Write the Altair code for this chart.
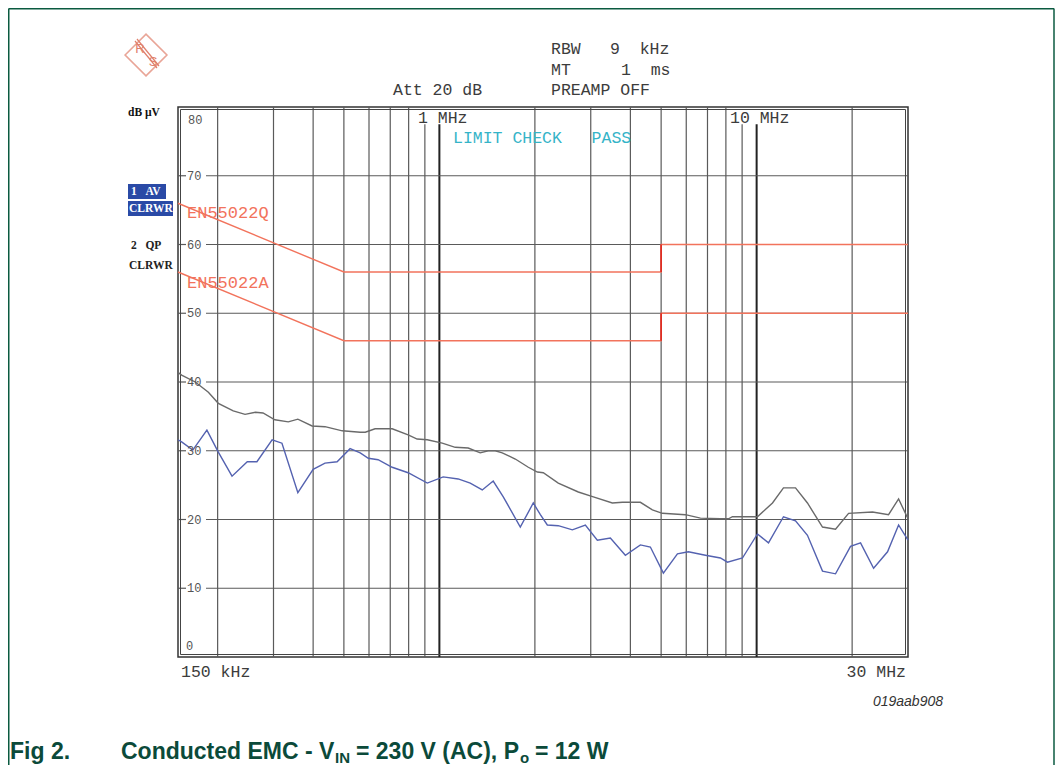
import altair as alt
import pandas as pd

# ---------------- data ----------------
qp_freq = [0.150, 0.154, 0.170, 0.187, 0.201, 0.224, 0.244, 0.263, 0.278, 0.303, 0.334, 0.358,
           0.397, 0.436, 0.494, 0.563, 0.584, 0.627, 0.710, 0.797, 0.851, 0.916, 1.021, 1.122,
           1.233, 1.345, 1.426, 1.500, 1.578, 1.735, 1.907, 2.036, 2.126, 2.370, 2.741, 3.057,
           3.509, 3.774, 4.301, 4.692, 5.045, 5.964, 6.650, 7.689, 8.150, 8.390, 10.06, 11.22,
           12.15, 13.26, 14.46, 16.13, 17.73, 19.49, 23.19, 26.05, 28.02, 30.0]
qp_level = [41.4, 41.0, 40.0, 38.5, 36.9, 35.8, 35.3, 35.6, 35.5, 34.5, 34.2, 34.6,
            33.6, 33.5, 32.9, 32.7, 32.7, 33.2, 33.2, 32.3, 31.7, 31.6, 31.1, 30.5,
            30.4, 29.7, 30.0, 30.0, 29.7, 28.8, 27.6, 26.9, 26.8, 25.3, 24.0, 23.3,
            22.4, 22.5, 22.5, 21.4, 20.9, 20.7, 20.2, 20.1, 20.1, 20.4, 20.4, 22.4,
            24.6, 24.6, 22.4, 18.9, 18.6, 20.9, 21.1, 20.7, 23.0, 20.1]

av_freq = [0.150, 0.154, 0.167, 0.185, 0.201, 0.222, 0.248, 0.266, 0.297, 0.319, 0.358, 0.400,
           0.436, 0.476, 0.523, 0.563, 0.597, 0.641, 0.710, 0.797, 0.916, 1.028, 1.146, 1.251,
           1.365, 1.478, 1.590, 1.799, 1.977, 2.081, 2.189, 2.370, 2.625, 2.885, 3.147, 3.459,
           3.857, 4.301, 4.624, 5.082, 5.628, 6.094, 6.895, 7.689, 8.091, 9.023, 10.06, 10.90,
           12.15, 13.26, 14.46, 16.13, 17.73, 19.77, 21.26, 23.37, 25.86, 28.02, 30.0]
av_level = [31.6, 31.3, 30.1, 33.0, 29.8, 26.3, 28.4, 28.4, 31.6, 31.1, 23.9, 27.3,
            28.2, 28.4, 30.3, 29.7, 28.9, 28.7, 27.6, 26.8, 25.3, 26.2, 25.9, 25.3,
            24.3, 25.6, 23.3, 18.9, 22.4, 20.7, 19.2, 19.1, 18.5, 19.2, 17.0, 17.3,
            14.8, 16.3, 16.0, 12.2, 15.0, 15.3, 14.8, 14.4, 13.8, 14.4, 17.9, 16.6,
            20.4, 19.8, 17.7, 12.5, 12.1, 16.1, 16.6, 12.9, 15.3, 19.2, 17.0]

limit_q_freq = [0.15, 0.5, 5.0, 5.0, 30.0]
limit_q_level = [66, 56, 56, 60, 60]
limit_a_freq = [0.15, 0.5, 5.0, 5.0, 30.0]
limit_a_level = [56, 46, 46, 50, 50]

grid_freq = [0.2, 0.3, 0.4, 0.5, 0.6, 0.7, 0.8, 0.9, 2, 3, 4, 5, 6, 7, 8, 9, 20]
grid_major = [1, 10]
grid_short = [0.9, 1, 9, 10]          # lines interrupted by the "MHz" labels
grid_level = [10, 20, 30, 40, 50, 60, 70]

# ---------------- tables ----------------
xs = alt.Scale(type="log", domain=[0.15, 30], nice=False)
ys = alt.Scale(domain=[0, 80], nice=False)

vg = pd.DataFrame({"f": grid_freq})
vg["top"] = [77.5 if f in grid_short else 80 for f in grid_freq]
vg["bot"] = 0
vm = pd.DataFrame({"f": grid_major})
vm["top"] = [77.5 if f in grid_short else 80 for f in grid_major]
vm["bot"] = 0
hg = pd.DataFrame({"lvl": grid_level})

lim = pd.concat([
    pd.DataFrame({"f": limit_q_freq, "v": limit_q_level, "s": "Q", "o": range(5)}),
    pd.DataFrame({"f": limit_a_freq, "v": limit_a_level, "s": "A", "o": range(5)}),
])
steps = pd.DataFrame({"f": [5.0, 5.0], "v1": [limit_q_level[2], limit_a_level[2]],
                      "v2": [limit_q_level[3], limit_a_level[3]]})
qp = pd.DataFrame({"f": qp_freq, "v": qp_level, "o": range(len(qp_freq))})
av = pd.DataFrame({"f": av_freq, "v": av_level, "o": range(len(av_freq))})
one = pd.DataFrame({"a": [0]})

X = lambda: alt.X("f:Q", scale=xs, axis=None)

layers = []

# grid
layers.append(alt.Chart(vg).mark_rule(color="#5a5a5a", strokeWidth=1.2).encode(
    x=X(), y=alt.Y("top:Q", scale=ys, axis=None), y2="bot:Q"))
layers.append(alt.Chart(vm).mark_rule(color="#222222", strokeWidth=2).encode(
    x=X(), y=alt.Y("top:Q", scale=ys, axis=None), y2="bot:Q"))
layers.append(alt.Chart(hg).mark_rule(color="#5a5a5a", strokeWidth=1.2).encode(
    x=alt.value(0), x2=alt.value(8), y=alt.Y("lvl:Q", scale=ys, axis=None)))
layers.append(alt.Chart(hg).mark_rule(color="#5a5a5a", strokeWidth=1.2).encode(
    x=alt.value(28), x2=alt.value(730), y=alt.Y("lvl:Q", scale=ys, axis=None)))

# inner border (double frame)
layers.append(alt.Chart(one).mark_rect(filled=False, stroke="#444444", strokeWidth=1).encode(
    x=alt.value(2.5), x2=alt.value(727.5), y=alt.value(2.5), y2=alt.value(547.5)))

# limits
layers.append(alt.Chart(lim).mark_line(color="#f2735c", strokeWidth=1.4).encode(
    x=X(), y=alt.Y("v:Q", scale=ys, axis=None), detail="s:N", order="o:Q"))
layers.append(alt.Chart(steps).mark_rule(color="#e0281e", strokeWidth=1.6).encode(
    x=X(), y=alt.Y("v1:Q", scale=ys, axis=None), y2="v2:Q"))

# traces
layers.append(alt.Chart(qp).mark_line(color="#6a6a6a", strokeWidth=1.4).encode(
    x=X(), y=alt.Y("v:Q", scale=ys, axis=None), order="o:Q"))
layers.append(alt.Chart(av).mark_line(color="#5462b0", strokeWidth=1.4).encode(
    x=X(), y=alt.Y("v:Q", scale=ys, axis=None), order="o:Q"))


def txt(t, px, py, **kw):
    return alt.Chart(one).mark_text(**kw).encode(
        x=alt.value(px), y=alt.value(py), text=alt.value(t))


NB = "\u00a0"
MONO = "Liberation Mono, DejaVu Sans Mono, monospace"
hdr = dict(font=MONO, fontSize=16.5, color="#3c3c3c", align="left", baseline="middle")
layers += [
    txt("RBW", 373, -58, **hdr), txt("9" + NB * 2 + "kHz", 432, -58, **hdr),
    txt("MT", 373, -37, **hdr), txt("1" + NB * 2 + "ms", 443, -37, **hdr),
    txt("Att 20 dB", 215, -17, **hdr), txt("PREAMP OFF", 373, -17, **hdr),
    txt("1 MHz", 240, 11, **hdr), txt("10 MHz", 552, 11, **hdr),
    txt("150 kHz", 3, 565, **hdr),
    txt("30 MHz", 728, 565, **{**hdr, "align": "right"}),
    txt("LIMIT CHECK" + NB * 3 + "PASS", 275, 31, **{**hdr, "color": "#35b4c8"}),
    txt("EN55022Q", 9, 106, **{**hdr, "color": "#f2735c", "fontSize": 17}),
    txt("EN55022A", 9, 176, **{**hdr, "color": "#f2735c", "fontSize": 17}),
]

# y tick labels inside the plot
ylab = pd.DataFrame({"lvl": grid_level, "t": [str(v) for v in grid_level]})
layers.append(alt.Chart(ylab).mark_text(font=MONO, fontSize=12, color="#555555",
                                        align="left", baseline="middle").encode(
    x=alt.value(9), y=alt.Y("lvl:Q", scale=ys, axis=None), text="t:N"))
layers += [
    txt("80", 10, 13, font=MONO, fontSize=12, color="#555555", align="left", baseline="middle"),
    txt("0", 8, 539, font=MONO, fontSize=12, color="#555555", align="left", baseline="middle"),
]

# left side trace indicators
SERIF = "Liberation Serif, DejaVu Serif, serif"
side = dict(font=SERIF, fontSize=11.5, fontWeight="bold", align="left", baseline="middle")
layers += [
    txt("dB" + NB + "µV", -50, 6, color="#111111", **side),
    alt.Chart(one).mark_rect(color="#2a4aa6").encode(
        x=alt.value(-50), x2=alt.value(-12), y=alt.value(77), y2=alt.value(92)),
    alt.Chart(one).mark_rect(color="#2a4aa6").encode(
        x=alt.value(-50), x2=alt.value(-5), y=alt.value(94), y2=alt.value(109)),
    txt("1" + NB * 3 + "AV", -47, 85, color="white", **side),
    txt("CLRWR", -49, 102, color="white", **side),
    txt("2" + NB * 3 + "QP", -47, 139, color="#222222", **side),
    txt("CLRWR", -49, 159, color="#222222", **side),
]

# R&S logo
LOGO = "#e0806c"
layers += [
    alt.Chart(one).mark_point(shape="diamond", size=1750, filled=False, stroke=LOGO,
                              strokeWidth=1.6).encode(x=alt.value(-32), y=alt.value(-52)),
    alt.Chart(one).mark_rule(color=LOGO, strokeWidth=1.2).encode(
        x=alt.value(-43), x2=alt.value(-21), y=alt.value(-66), y2=alt.value(-39)),
    alt.Chart(one).mark_rule(color=LOGO, strokeWidth=1.2).encode(
        x=alt.value(-41), x2=alt.value(-19), y=alt.value(-68), y2=alt.value(-41)),
    txt("R", -38, -58, font="Liberation Sans", fontSize=13, color=LOGO, align="center",
        baseline="middle"),
    txt("S", -25, -45, font="Liberation Sans", fontSize=13, color=LOGO, align="center",
        baseline="middle"),
]

# code + caption
CAP = "#0b4a3a"
CAPF = "Liberation Sans, Arial, sans-serif"
cap = dict(font=CAPF, fontSize=23, fontWeight="bold", color=CAP, align="left",
           baseline="alphabetic")
sub = dict(cap, fontSize=15)
layers += [
    txt("019aab908", 765, 595, font="Liberation Sans", fontSize=14, fontStyle="italic",
        color="#333333", align="right", baseline="middle"),
    txt("Fig 2.", -168, 652, **cap),
    txt("Conducted EMC - V", -57, 652, **cap),
    txt("IN", 157, 656, **sub),
    txt("= 230 V (AC), P", 178, 652, **cap),
    txt("o", 342, 656, **sub),
    txt("= 12 W", 357, 652, **cap),
]

# outer figure frame (dark green)
FR = "#0b5a40"
layers += [
    alt.Chart(one).mark_rule(color=FR, strokeWidth=1.5).encode(
        x=alt.value(-169.25), y=alt.value(-98.5), y2=alt.value(662)),
    alt.Chart(one).mark_rule(color=FR, strokeWidth=1.5).encode(
        x=alt.value(876), y=alt.value(-98.5), y2=alt.value(662)),
    alt.Chart(one).mark_rule(color=FR, strokeWidth=1.5).encode(
        x=alt.value(-169.25), x2=alt.value(876), y=alt.value(-98.25)),
]

chart = alt.layer(*layers).properties(
    width=730, height=550,
    padding={"left": 170, "top": 99, "right": 147, "bottom": 108},
    autosize=alt.AutoSizeParams(type="none"),
    background="white",
).configure_view(stroke="#333333", strokeWidth=1.5)

chart.save("out.html", embed_options={"renderer": "svg", "actions": False})
